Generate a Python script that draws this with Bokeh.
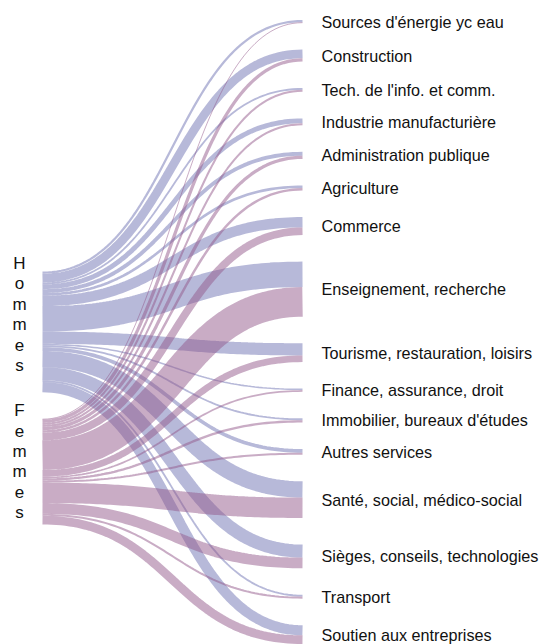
import numpy as np
from bokeh.plotting import figure
from bokeh.models import Range1d, ColumnDataSource
from bokeh.core.properties import value
from bokeh.embed import file_html
from bokeh.resources import INLINE

# ---------------- data ----------------
sectors = [
    "Sources d'énergie yc eau",
    "Construction",
    "Tech. de l'info. et comm.",
    "Industrie manufacturière",
    "Administration publique",
    "Agriculture",
    "Commerce",
    "Enseignement, recherche",
    "Tourisme, restauration, loisirs",
    "Finance, assurance, droit",
    "Immobilier, bureaux d'études",
    "Autres services",
    "Santé, social, médico-social",
    "Sièges, conseils, technologies",
    "Transport",
    "Soutien aux entreprises",
]
hommes = [2.2, 8.5, 1.8, 4.8, 3.8, 2.6, 10.2, 25.0, 12.0, 1.5, 1.8, 3.6, 16.0, 12.8, 1.8, 10.0]
femmes = [0.8, 3.2, 2.0, 2.0, 3.2, 2.4, 7.5, 29.0, 6.5, 1.7, 2.3, 2.0, 20.0, 10.5, 2.0, 8.5]
genders = ["Hommes", "Femmes"]
values = [hommes, femmes]

# ---------------- layout ----------------
W, H = 552, 644
x_left, x_right = 42, 302
top_right, bottom_right = 19.5, 643.5
node_pad = 26.5
left_top = 271.0
colors = ["#7074b4", "#935a8c"]
link_alpha = 0.5
font = value("Liberation Sans")

n = len(sectors)
total = sum(hommes) + sum(femmes)
ky = (bottom_right - top_right - node_pad * (n - 1)) / total

# right nodes
right_top = []
y = top_right
for i in range(n):
    right_top.append(y)
    y += (hommes[i] + femmes[i]) * ky + node_pad

# left nodes
left_top_nodes = []
y = left_top
for g in range(2):
    left_top_nodes.append(y)
    y += sum(values[g]) * ky + node_pad

# links as stroked centre lines (d3-sankey style)
xs, ys, widths, cols = [], [], [], []
t = np.linspace(0, 1, 80)
xm = (x_left + x_right) / 2
for g in range(2):
    s_off = left_top_nodes[g]
    for i in range(n):
        w = values[g][i] * ky
        t_off = right_top[i] + (hommes[i] * ky if g == 1 else 0)
        y0 = s_off + w / 2
        y1 = t_off + w / 2
        bx = (1 - t) ** 3 * x_left + 3 * (1 - t) ** 2 * t * xm + 3 * (1 - t) * t ** 2 * xm + t ** 3 * x_right
        by = (1 - t) ** 3 * y0 + 3 * (1 - t) ** 2 * t * y0 + 3 * (1 - t) * t ** 2 * y1 + t ** 3 * y1
        xs.append(list(bx))
        ys.append(list(by))
        widths.append(max(1.0, w))
        cols.append(colors[g])
        s_off += w

p = figure(width=W, height=H, output_backend="svg", toolbar_location=None,
           x_range=Range1d(0, 552), y_range=Range1d(644, 0),
           min_border=0, outline_line_color=None)
p.axis.visible = False
p.grid.visible = False
p.background_fill_color = "white"

src = ColumnDataSource(dict(xs=xs, ys=ys, w=widths, c=cols))
p.multi_line("xs", "ys", source=src, line_width="w", line_color="c",
             line_alpha=link_alpha, line_cap="butt")

# right labels
lab_x = [x_right + 19] * n
lab_y = [right_top[i] + (hommes[i] + femmes[i]) * ky / 2 for i in range(n)]
p.text(lab_x, lab_y, text=sectors, text_font=font,
       text_font_size="16.2px", text_baseline="middle", text_align="left",
       text_color="#111111")

# left labels: stacked letters
letter_gap = 20.3
lx, ly, lt = [], [], []
for g in range(2):
    name = genders[g]
    for k, ch in enumerate(name):
        lx.append(19)
        ly.append(left_top_nodes[g] - 8 + k * letter_gap)
        lt.append(ch)
p.text(lx, ly, text=lt, text_font=font,
       text_font_size="17px", text_baseline="middle", text_align="center",
       text_color="#111111")

open("out.html", "w").write(file_html(p, INLINE))
